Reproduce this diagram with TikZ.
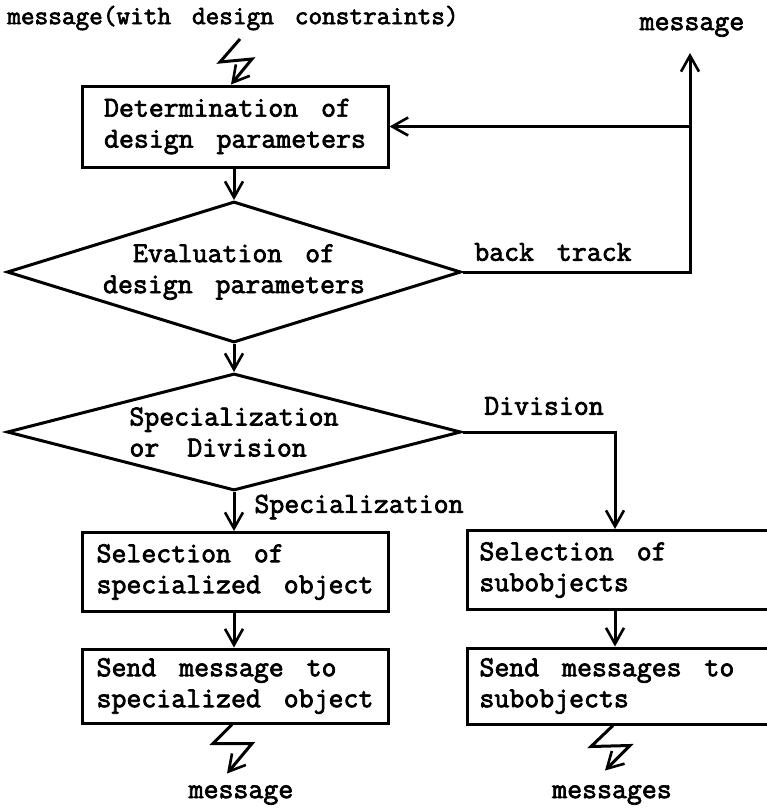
\documentclass[tikz,border=0pt]{standalone}
\usepackage{fontspec}
\setmainfont{Latin Modern Mono}[FakeBold=2.5]
\usetikzlibrary{arrows.meta,shapes.geometric}

% typewriter text with wide word gaps
\newcommand\widegaps{\spaceskip=0.79em plus 0.1em\relax}
\newcommand\diagtext[1]{\fontsize{#1}{31}\selectfont\widegaps}

\begin{document}
\begin{tikzpicture}[x=1pt,y=-1pt,
  line width=3pt,
  font=\diagtext{29},
  arr/.style={-{Straight Barb[length=16pt,width=18pt,line width=2.6pt]}},
  lbox/.style={draw, rectangle, inner sep=0pt, align=left, minimum width=306pt},
  rbox/.style={draw, rectangle, inner xsep=12pt, inner ysep=0pt, align=left,
               text width=300pt, anchor=west, execute at begin node=\widegaps},
  decision/.style={draw, diamond, inner sep=0pt, minimum width=454pt},
  lbl/.style={inner sep=0pt}
]
\clip (0,0) rectangle (767,808);

% incoming message
\node[lbl, font=\diagtext{26.5}] (inmsg) at (233,18) {message(with design constraints)};
\coordinate (z0) at (240,39);

% left column
\node[lbox, minimum height=81pt] (det) at (235,126.5) {Determination of\\design parameters};
\node[decision, minimum height=141pt, aspect=3.22, align=center] (eval) at (234,272)
  {Evaluation of\\design parameters};
\node[decision, minimum height=117pt, aspect=3.88, align=left] (spec) at (234,432)
  {Specialization\\or\hspace{28pt}Division};
\node[lbox, minimum height=79pt] (selspec) at (235,572) {Selection of\\specialized object};
\node[lbox, minimum height=74pt] (sendspec) at (235,686) {Send message to\\specialized object};

% right column
\node[rbox, minimum height=79pt] (selsub) at (466,570) {Selection of\\subobjects};
\node[rbox, minimum height=76pt] (sendsub) at (466,686) {Send messages to\\subobjects};

% back track loop
\coordinate (btcorner) at (690,272);
\coordinate (btend) at (690,53);
\node[lbl] (outmsg) at (692,27) {message};
\node[lbl] (bt) at (553,252) {back track};

% division branch
\coordinate (divcorner) at (615,432);
\node[lbl] (divlbl) at (544,406) {Division};
\node[lbl] (speclbl) at (359,507) {Specialization};

% outgoing messages
\node[lbl] (msgl) at (241,795) {message};
\node[lbl] (msgr) at (612,795) {messages};

% connectors
\draw[arr] (z0) -- ++(-20,23) -- ++(32,-3) -- (det.north -| 231,0);
\draw[arr] (det.south -| spec.south) -- (eval.north);
\draw[arr] (eval.south) -- (spec.north);
\draw[arr] (spec.south) -- (selspec.north -| spec.south);
\draw[arr] (selspec.south -| spec.south) -- (sendspec.north -| spec.south);

\draw[arr] (eval.east) -- (btcorner) -- (btend);
\draw[arr] (det.east -| btcorner) -- (det.east);

\draw[arr] (spec.east) -- (divcorner) -- (selsub.north west -| divcorner);
\draw[arr] (selsub.south west -| divcorner) -- (sendsub.north west -| divcorner);

\draw[arr] (sendspec.south -| 232,0) -- ++(-19,19) -- ++(39,0) -- ++(-25,30);
\draw[arr] (sendsub.south west -| 613,0) -- ++(-22,21) -- ++(39,-1) -- ++(-25,25);
\end{tikzpicture}
\end{document}
